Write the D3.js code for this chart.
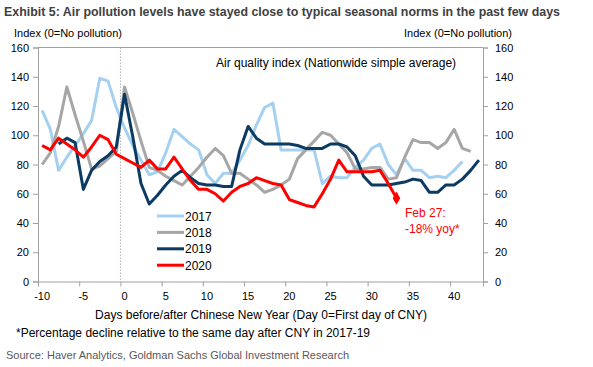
<!DOCTYPE html>
<html>
<head>
<meta charset="utf-8">
<script src="https://cdn.jsdelivr.net/npm/d3@7"></script>
<style>
  body { margin: 0; background: #fff; }
  svg { font-family: "Liberation Sans", Arial, sans-serif; }
</style>
</head>
<body>
<div id="chart"></div>
<script>
// daily index values, one array per year, starting at the given day
const start2017 = -10;
const aqi2017 = [117, 104, 76, 85, 93, 101, 110, 139, 137, 119, 105, 93, 83, 73, 75, 88, 104, 99, 94, 90,
  73, 67, 74, 74, 83, 93, 107, 119, 122, 90, 90, 90, 90, 90, 67, 72, 71, 71, 78, 83,
  91, 94, 80, 73, 84, 76, 76, 71, 72, 71, 76, 82];
const start2018 = -10;
const aqi2018 = [80, 88, 106, 133, 114, 96, 77, 79, 84, 89, 133, 115, 96, 78, 76, 72, 69, 66, 72, 78,
  85, 91, 86, 74, 74, 70, 66, 61, 63, 66, 70, 84, 90, 96, 102, 100, 94, 88, 77, 77,
  78, 78, 70, 71, 85, 97, 95, 95, 91, 95, 104, 91, 89];
const start2019 = -8;
const aqi2019 = [94, 98, 95, 63, 76, 82, 86, 92, 128, 99, 67, 53, 59, 66, 72, 76, 71, 67, 66, 66,
  65, 65, 90, 106, 98, 94, 94, 94, 94, 93, 91, 91, 91, 94, 94, 92, 86, 72, 66, 66,
  66, 67, 68, 70, 69, 61, 61, 66, 66, 70, 76, 83];
const start2020 = -10;
const aqi2020 = [93, 90, 98, 94, 90, 85, 92, 100, 97, 87, 84, 81, 78, 83, 77, 77, 85, 77, 69, 63,
  63, 60, 55, 61, 65, 67, 71, 69, 67, 66, 56, 54, 52, 51, 60, 70, 83, 75, 75, 75,
  75, 76, 67, 57];

const years = ["2017", "2018", "2019", "2020"];
const colors = ["#a6d0f0", "#a6a6a6", "#0b3a62", "#ff0000"];
const xTicks = [-10, -5, 0, 5, 10, 15, 20, 25, 30, 35, 40];
const yTicks = [0, 20, 40, 60, 80, 100, 120, 140, 160];

const series = [
  { year: "2017", start: start2017, values: aqi2017 },
  { year: "2018", start: start2018, values: aqi2018 },
  { year: "2019", start: start2019, values: aqi2019 },
  { year: "2020", start: start2020, values: aqi2020 }
];

const width = 593, height = 367;
const plotLeft = 38, plotRight = 483, plotTop = 47.5, plotBottom = 281.5;
const axisColor = "#a0a0a0";

const svg = d3.select("#chart").append("svg")
  .attr("width", width)
  .attr("height", height);

const x = d3.scaleLinear().domain([-10.5, 43.5]).range([plotLeft, plotRight]);
const y = d3.scaleLinear().domain([0, 160]).range([plotBottom, plotTop]);

// title
svg.append("text")
  .attr("x", 4).attr("y", 16)
  .attr("font-size", 12.4).attr("font-weight", "bold")
  .attr("fill", "#404040")
  .text("Exhibit 5: Air pollution levels have stayed close to typical seasonal norms in the past few days");

// axis captions
svg.append("text").attr("x", 14).attr("y", 37).attr("font-size", 11)
  .text("Index (0=No pollution)");
svg.append("text").attr("x", 512).attr("y", 37).attr("font-size", 11)
  .attr("text-anchor", "end").text("Index (0=No pollution)");

// frame
svg.append("line").attr("x1", plotLeft).attr("x2", plotRight).attr("y1", plotTop).attr("y2", plotTop)
  .attr("stroke", axisColor);

// y axes on both sides
const yLeft = svg.append("g").attr("transform", `translate(${plotLeft},0)`)
  .call(d3.axisLeft(y).tickValues(yTicks).tickSize(5).tickPadding(4));
const yRight = svg.append("g").attr("transform", `translate(${plotRight},0)`)
  .call(d3.axisRight(y).tickValues(yTicks).tickSize(5).tickPadding(7));

// x axis: ticks between categories, labels on the category
const xAxis = svg.append("g").attr("transform", `translate(0,${plotBottom})`)
  .call(d3.axisBottom(x).tickValues(xTicks.map(d => d - 0.5)).tickSize(5).tickFormat(""));
svg.append("g").selectAll("text")
  .data(xTicks)
  .join("text")
  .attr("x", d => x(d))
  .attr("y", plotBottom + 18.5)
  .attr("text-anchor", "middle")
  .attr("font-size", 11)
  .text(d => d);

[yLeft, yRight, xAxis].forEach(g => {
  g.select(".domain").attr("stroke", axisColor);
  g.selectAll(".tick line").attr("stroke", axisColor);
  g.selectAll(".tick text").attr("font-size", 11).attr("fill", "#000")
    .attr("font-family", "Liberation Sans, Arial, sans-serif");
});

// day 0 marker
svg.append("line")
  .attr("x1", x(-0.5)).attr("x2", x(-0.5))
  .attr("y1", plotTop).attr("y2", plotBottom)
  .attr("stroke", "#b0b0b0").attr("stroke-dasharray", "1.5,1.5");

svg.append("text")
  .attr("x", 216).attr("y", 67).attr("font-size", 12)
  .text("Air quality index (Nationwide simple average)");

// lines
const line = d3.line()
  .x(d => x(d.day))
  .y(d => y(d.value));

series.forEach((s, k) => {
  const pts = s.values.map((v, i) => ({ day: s.start + i, value: v }));
  svg.append("path")
    .datum(pts)
    .attr("fill", "none")
    .attr("stroke", colors[k])
    .attr("stroke-width", 3)
    .attr("stroke-linejoin", "round")
    .attr("d", line);
});

// end marker for 2020
const lastDay = start2020 + aqi2020.length - 1;
svg.append("path")
  .attr("d", d3.symbol(d3.symbolDiamond, 50)())
  .attr("transform", `translate(${x(lastDay)},${y(aqi2020[aqi2020.length - 1])})`)
  .attr("fill", "#ff0000");

svg.append("text").attr("x", 405).attr("y", 217).attr("font-size", 12)
  .attr("fill", "#ff0000").text("Feb 27:");
svg.append("text").attr("x", 405).attr("y", 233).attr("font-size", 12)
  .attr("fill", "#ff0000").text("-18% yoy*");

// legend
const legend = svg.append("g");
years.forEach((yr, i) => {
  const ly = 216 + i * 16.4;
  legend.append("line")
    .attr("x1", 157).attr("x2", 184)
    .attr("y1", ly).attr("y2", ly)
    .attr("stroke", colors[i]).attr("stroke-width", 3);
  legend.append("text")
    .attr("x", 185).attr("y", ly + 4.5)
    .attr("font-size", 12)
    .text(yr);
});

svg.append("text")
  .attr("x", 261).attr("y", 319).attr("font-size", 12)
  .attr("text-anchor", "middle")
  .text("Days before/after Chinese New Year (Day 0=First day of CNY)");

svg.append("text")
  .attr("x", 16).attr("y", 337).attr("font-size", 12)
  .text("*Percentage decline relative to the same day after CNY in 2017-19");

svg.append("text")
  .attr("x", 6).attr("y", 359).attr("font-size", 11)
  .attr("fill", "#595959")
  .text("Source: Haver Analytics, Goldman Sachs Global Investment Research");
</script>
</body>
</html>
